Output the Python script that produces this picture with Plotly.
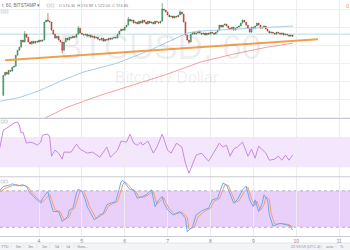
import plotly.graph_objects as go

W, H = 350, 250

# ---------------- data ----------------
# hourly candles, x = hours since 2016-06-03 00:00
candle_hours = list(range(4, 167))
first_open = 542.2
closes = [
    553.3, 555.0, 553.9, 556.1, 555.6, 557.8, 558.3, 564.4, 567.2, 568.9,
    572.8, 571.7, 576.1, 574.4, 571.7, 570.6, 572.2, 571.1, 572.2, 571.7,
    572.8, 572.2, 572.8, 582.8, 583.9, 583.3, 582.8, 578.3, 576.1, 573.9,
    575.0, 572.8, 571.7, 567.2, 571.7, 573.9, 572.8, 574.4, 573.9, 575.0,
    574.4, 576.1, 579.4, 576.7, 576.1, 575.6, 576.1, 575.0, 575.6, 574.4,
    575.0, 573.9, 574.4, 573.3, 572.8, 573.9, 572.2, 573.3, 572.8, 573.9,
    573.3, 573.9, 574.4, 573.9, 576.1, 577.8, 578.9, 578.3, 580.0, 581.1,
    584.4, 583.3, 583.9, 582.2, 582.8, 581.7, 583.3, 582.2, 583.9, 582.8,
    581.7, 583.3, 582.2, 582.8, 581.7, 583.3, 582.8, 582.2, 583.3, 590.0,
    589.4, 588.3, 586.7, 585.6, 586.1, 585.0, 586.1, 585.6, 586.7, 588.3,
    587.2, 582.8, 575.6, 572.8, 571.7, 576.1, 577.2, 576.1, 576.7, 577.8,
    576.7, 576.1, 576.7, 575.6, 576.7, 576.1, 577.2, 576.7, 576.1, 577.2,
    578.3, 581.1, 580.0, 581.1, 581.7, 580.6, 579.4, 578.9, 580.0, 578.3,
    579.4, 580.0, 580.6, 582.2, 583.9, 582.8, 581.1, 579.4, 577.2, 580.0,
    579.4, 580.6, 582.2, 581.1, 579.4, 580.0, 580.6, 578.9, 577.8, 576.7,
    577.2, 576.7, 576.1, 577.2, 576.7, 576.1, 576.7, 575.6, 576.1, 575.6,
    575.0, 575.6, 574.9,
]
wick_highs = {12: 577.8, 25: 587.8, 42: 580.6, 70: 585.6, 89: 593.3, 99: 589.4}
wick_lows = {0: 542.2, 33: 565.6, 104: 570.6}

blue_ma_hours = [2.2, 13.4, 24.6, 35.8, 48.6, 67.7, 86.2, 95.7, 106.9, 114.2, 132.6, 151.7, 166.2]
blue_ma = [538.9, 541.1, 545.0, 550.0, 555.0, 560.0, 567.2, 571.7, 576.7, 577.8, 578.9, 580.0, 580.6]

red_ma_hours = [24.6, 39.7, 58.2, 76.6, 95.7, 114.2, 132.6, 151.7, 166.2]
red_ma = [528.3, 535.6, 542.2, 547.8, 553.9, 560.6, 565.0, 568.9, 571.1]

trend_hours = [5.0, 180.2]
trend_prices = [561.7, 573.3]
last_price_line = 576.1

rsi_hours = [2, 4, 6, 10, 12, 13, 14, 15, 17, 19, 21, 23, 25, 26, 29, 30, 31, 33, 35, 37,
             38, 42, 45, 47, 51, 54, 58, 62, 64, 68, 70, 73, 75, 77, 79, 81, 82, 85, 88, 90,
             93, 95, 96, 98, 101, 104, 106, 108, 110, 112, 115, 117, 119, 121, 124, 125, 127, 129, 131, 133,
             135, 138, 141, 143, 145, 147, 151, 153, 156, 158, 160, 162, 164, 166]
rsi_vals = [55.3, 79.3, 82.0, 88.7, 90.0, 86.0, 75.3, 76.7, 62.0, 63.3, 62.0, 59.3, 63.3, 72.7, 74.0, 70.0, 44.7, 52.7, 48.7, 40.7,
            50.0, 50.0, 60.7, 54.0, 48.7, 50.0, 43.3, 56.7, 43.3, 52.7, 64.7, 63.3, 74.0, 62.0, 59.3, 63.3, 59.3, 64.7, 48.7, 56.7,
            74.0, 59.3, 52.7, 48.7, 62.0, 56.7, 35.3, 22.0, 35.3, 46.0, 48.7, 43.3, 38.0, 46.0, 59.3, 62.0, 56.7, 59.3, 44.7, 54.0,
            56.7, 63.3, 44.7, 54.0, 42.0, 58.0, 48.7, 39.3, 40.7, 44.7, 39.3, 46.0, 39.3, 46.0]

stk_hours = [2, 4, 8, 9, 12, 15, 17, 19, 21, 23, 25, 26, 29, 30, 32, 35, 37, 40, 41, 43,
             45, 46, 48, 50, 51, 55, 58, 60, 62, 64, 67, 68, 70, 71, 73, 75, 77, 79, 82, 84,
             87, 89, 91, 93, 94, 96, 99, 103, 106, 107, 110, 112, 116, 119, 121, 124, 125, 127, 129, 131,
             133, 135, 138, 140, 142, 144, 145, 147, 149, 150, 152, 153, 155, 159, 163, 165, 166]
stk_k = [80.5, 87.1, 89.9, 91.6, 88.3, 89.9, 87.1, 76.2, 70.6, 65.1, 59.7, 67.9, 78.8, 65.1, 45.8, 45.8, 29.3, 37.5, 48.6, 51.4,
         76.2, 82.8, 78.8, 65.1, 54.0, 32.1, 40.3, 43.1, 56.9, 59.7, 62.3, 73.4, 95.4, 97.0, 89.9, 81.7, 81.7, 67.9, 70.6, 73.4,
         81.7, 54.0, 65.1, 70.6, 59.7, 48.6, 40.3, 45.8, 34.9, 12.7, 21.0, 40.3, 48.6, 51.4, 65.1, 67.9, 76.2, 92.7, 89.9, 73.4,
         59.7, 65.1, 81.7, 87.8, 65.1, 54.0, 65.1, 45.8, 59.7, 73.4, 65.1, 40.3, 22.1, 26.6, 23.8, 21.0, 15.5]

std_hours = [2, 5, 9, 11, 14, 16, 18, 20, 22, 24, 26, 28, 30, 31, 33, 36, 38, 41, 42, 44,
             46, 47, 49, 51, 52, 56, 59, 61, 63, 65, 68, 69, 71, 72, 74, 76, 78, 80, 83, 85,
             88, 90, 92, 94, 95, 97, 100, 104, 107, 108, 111, 113, 117, 120, 122, 125, 126, 128, 130, 132,
             134, 136, 139, 141, 143, 145, 146, 148, 150, 151, 153, 154, 156, 160, 164, 166]
std_d = [78.0, 84.0, 88.5, 90.5, 88.0, 89.0, 86.0, 77.0, 71.0, 65.0, 61.5, 68.0, 74.0, 66.0, 49.0, 45.0, 32.0, 37.0, 46.0, 52.0,
         73.0, 80.0, 79.0, 66.0, 56.0, 34.5, 39.5, 44.0, 55.0, 58.5, 62.0, 71.0, 91.0, 95.0, 90.0, 82.5, 80.0, 69.5, 70.0, 73.0,
         79.0, 58.0, 63.0, 68.5, 61.0, 50.0, 41.5, 44.5, 37.0, 17.0, 20.0, 37.0, 47.0, 51.0, 63.0, 67.0, 74.0, 90.0, 89.0, 75.0,
         61.0, 63.5, 79.0, 86.0, 67.0, 56.0, 63.0, 48.0, 57.0, 70.0, 66.0, 43.0, 25.0, 26.0, 24.5, 20.5]

day_ticks = [24, 48, 72, 96, 120, 144, 168, 192]
day_labels = ["4", "5", "6", "7", "8", "9", "10", "11"]

header_symbol = "r, 60, BITSTAMP \u25be"
header_ohlc = "O 574.30  H 574.99  L 572.00  C 574.86"
watermark_main = "BTCUSD, 60"
watermark_sub = "Bitcoin / Dollar"
toolbar_left = ["YTD", "6m", "3m", "1m", "5d", "1d", "Goto..."]
toolbar_time = "22:59:59 (UTC-4)"
toolbar_right = ["auto", "%"]

# ---------------- derived candle values ----------------
opens = [first_open] + closes[:-1]
highs = [max(o, c) for o, c in zip(opens, closes)]
lows = [min(o, c) for o, c in zip(opens, closes)]
for k, v in wick_highs.items():
    highs[k] = v
for k, v in wick_lows.items():
    lows[k] = v

# ---------------- figure ----------------
def py(px):
    return 1 - px / H

def pxx(px):
    return px / W

FONT = "Liberation Sans, Arial, sans-serif"

fig = go.Figure()

fig.add_trace(go.Scatter(x=blue_ma_hours, y=blue_ma, mode="lines", line=dict(color="#a9cbe8", width=1),
                         xaxis="x", yaxis="y", hoverinfo="skip", showlegend=False))
fig.add_trace(go.Scatter(x=red_ma_hours, y=red_ma, mode="lines", line=dict(color="#f3a0a0", width=1),
                         xaxis="x", yaxis="y", hoverinfo="skip", showlegend=False))
fig.add_trace(go.Candlestick(
    x=candle_hours, open=opens, high=highs, low=lows, close=closes,
    increasing=dict(line=dict(color="#2f7d4d", width=0.6), fillcolor="#5dab7c"),
    decreasing=dict(line=dict(color="#a43a2d", width=0.6), fillcolor="#d6574a"),
    whiskerwidth=0, xaxis="x", yaxis="y", showlegend=False, hoverinfo="skip"))
fig.add_trace(go.Scatter(x=trend_hours, y=trend_prices, mode="lines", line=dict(color="#f2a04c", width=2),
                         xaxis="x", yaxis="y", hoverinfo="skip", showlegend=False))

fig.add_trace(go.Scatter(x=rsi_hours, y=rsi_vals, mode="lines", line=dict(color="#c68ae3", width=1),
                         xaxis="x", yaxis="y2", hoverinfo="skip", showlegend=False))

fig.add_trace(go.Scatter(x=std_hours, y=std_d, mode="lines", line=dict(color="#f3a066", width=1),
                         xaxis="x", yaxis="y3", hoverinfo="skip", showlegend=False))
fig.add_trace(go.Scatter(x=stk_hours, y=stk_k, mode="lines", line=dict(color="#6ea6f4", width=1),
                         xaxis="x", yaxis="y3", hoverinfo="skip", showlegend=False))

shapes = []
# bands
shapes.append(dict(type="rect", xref="paper", yref="y2", x0=0, x1=1, y0=30, y1=70,
                   fillcolor="#f4e6fc", line=dict(width=0), layer="below"))
shapes.append(dict(type="rect", xref="paper", yref="y3", x0=0, x1=1, y0=20, y1=80,
                   fillcolor="#e8d0fa", line=dict(width=0), layer="below"))
for lvl in (20, 80):
    shapes.append(dict(type="line", xref="paper", yref="y3", x0=0, x1=1, y0=lvl, y1=lvl,
                       line=dict(color="#9a9aa2", width=0.7, dash="dot"), layer="below"))
# last price line
shapes.append(dict(type="line", xref="paper", yref="y", x0=0, x1=1, y0=last_price_line, y1=last_price_line,
                   line=dict(color="#b5dede", width=1), layer="below"))
# pane separators
for sep in (118.5, 176.8, 236.5):
    shapes.append(dict(type="line", xref="paper", yref="paper", x0=0, x1=1, y0=py(sep), y1=py(sep),
                       line=dict(color="#c8cbd1", width=1)))
# toolbar
shapes.append(dict(type="rect", xref="paper", yref="paper", x0=0, x1=1, y0=0, y1=py(243),
                   fillcolor="#f3f4f6", line=dict(width=0)))
shapes.append(dict(type="line", xref="paper", yref="paper", x0=0, x1=1, y0=py(243), y1=py(243),
                   line=dict(color="#dfe1e5", width=0.8)))
# small icon boxes
for (bx, by) in [(1, 10), (5, 10), (47, 4), (51, 4), (1, 120), (4.5, 120), (1, 180), (4.5, 180)]:
    shapes.append(dict(type="rect", xref="paper", yref="paper", x0=pxx(bx), x1=pxx(bx + 3),
                       y0=py(by + 3), y1=py(by), line=dict(color="#c6c9cf", width=0.6), fillcolor="#f6f7f9"))

annotations = []
annotations.append(dict(text=watermark_main, xref="paper", yref="paper", x=pxx(160), y=py(47),
                        xanchor="center", yanchor="middle", showarrow=False,
                        font=dict(family=FONT, size=35, color="rgba(120,126,140,0.13)")))
annotations.append(dict(text=watermark_sub, xref="paper", yref="paper", x=pxx(167), y=py(77),
                        xanchor="center", yanchor="middle", showarrow=False,
                        font=dict(family=FONT, size=16, color="rgba(120,126,140,0.13)")))
annotations.append(dict(text=header_symbol, xref="paper", yref="paper", x=0, y=py(5.5),
                        xanchor="left", yanchor="middle", showarrow=False,
                        font=dict(family=FONT, size=4.6, color="#6e717b")))
annotations.append(dict(text=header_ohlc, xref="paper", yref="paper", x=pxx(57), y=py(5.5),
                        xanchor="left", yanchor="middle", showarrow=False,
                        font=dict(family=FONT, size=3.9, color="#7d808a")))
annotations.append(dict(text="0", xref="paper", yref="paper", x=pxx(344), y=py(6),
                        xanchor="left", yanchor="middle", showarrow=False,
                        font=dict(family=FONT, size=6, color="#f2a04c")))
tb_x = [5, 18, 31, 44, 57, 68, 82]
for lbl, bx in zip(toolbar_left, tb_x):
    annotations.append(dict(text=lbl, xref="paper", yref="paper", x=pxx(bx), y=py(246.5),
                            xanchor="center", yanchor="middle", showarrow=False,
                            font=dict(family=FONT, size=3.8, color="#8a8d96")))
for bx in (11, 24, 37, 50, 62, 74):
    shapes.append(dict(type="line", xref="paper", yref="paper", x0=pxx(bx), x1=pxx(bx),
                       y0=py(244.5), y1=py(248.5), line=dict(color="#d9dbe0", width=0.6)))
annotations.append(dict(text=toolbar_time, xref="paper", yref="paper", x=pxx(306), y=py(246.5),
                        xanchor="center", yanchor="middle", showarrow=False,
                        font=dict(family=FONT, size=3.8, color="#8a8d96")))
for lbl, bx in zip(toolbar_right, [329, 342]):
    annotations.append(dict(text=lbl, xref="paper", yref="paper", x=pxx(bx), y=py(246.5),
                            xanchor="center", yanchor="middle", showarrow=False,
                            font=dict(family=FONT, size=3.8, color="#8a8d96")))
for bx in (322, 336):
    shapes.append(dict(type="line", xref="paper", yref="paper", x0=pxx(bx), x1=pxx(bx),
                       y0=py(244.5), y1=py(248.5), line=dict(color="#d9dbe0", width=0.6)))

fig.update_layout(
    width=W, height=H, margin=dict(l=0, r=0, t=0, b=0),
    paper_bgcolor="white", plot_bgcolor="white",
    showlegend=False,
    xaxis=dict(domain=[0, 1], range=[2.16, 198.15], anchor="y3",
               tickmode="array", tickvals=day_ticks, ticktext=day_labels,
               showgrid=True, gridcolor="#ececee", gridwidth=1, zeroline=False, showline=False,
               ticks="", tickfont=dict(family=FONT, size=5, color="#7b7e88"),
               rangeslider=dict(visible=False), fixedrange=True),
    yaxis=dict(domain=[py(118.5), 1], range=[529.4, 595.0], showticklabels=False,
               showgrid=True, tick0=0, dtick=10, gridcolor="#eeeff1", zeroline=False, fixedrange=True),
    yaxis2=dict(domain=[py(176.8), py(118.5)], range=[17.3, 94.7], showticklabels=False,
                showgrid=False, zeroline=False, fixedrange=True),
    yaxis3=dict(domain=[py(236.5), py(177.3)], range=[4.8, 102.3], showticklabels=False,
                showgrid=False, zeroline=False, fixedrange=True),
    shapes=shapes, annotations=annotations,
)

fig.write_html("out.html")
